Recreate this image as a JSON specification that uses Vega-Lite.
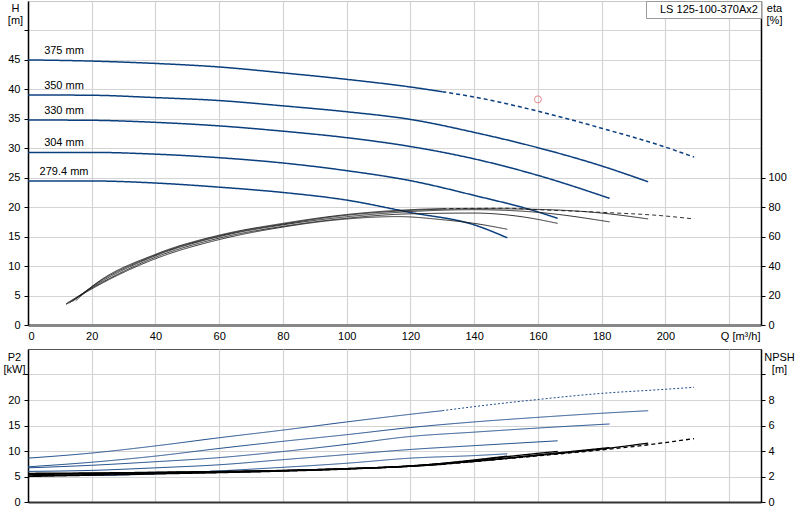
{
  "$schema": "https://vega.github.io/schema/vega-lite/v6.json",
  "background": "white",
  "padding": {"left": 2, "top": 0, "right": 0, "bottom": 0},
  "config": {
    "font": "Liberation Sans",
    "view": {"stroke": "#c8c8c8"},
    "concat": {"spacing": 6},
    "axis": {
      "labelFont": "Liberation Sans", "labelFontSize": 11, "labelColor": "black", "labelOverlap": false,
      "titleFont": "Liberation Sans", "titleFontSize": 11, "titleFontWeight": "normal", "titleColor": "black",
      "gridColor": "#d4d4d4", "gridWidth": 1.2,
      "tickColor": "black", "domainColor": "black", "domainWidth": 1.5
    }
  },
  "datasets": {
    "head": [
      {"diameter": "375 mm", "part": "main", "q": 0, "h": 45},
      {"diameter": "375 mm", "part": "main", "q": 20, "h": 44.8},
      {"diameter": "375 mm", "part": "main", "q": 40, "h": 44.4},
      {"diameter": "375 mm", "part": "main", "q": 60, "h": 43.8},
      {"diameter": "375 mm", "part": "main", "q": 80, "h": 42.8},
      {"diameter": "375 mm", "part": "main", "q": 100, "h": 41.7},
      {"diameter": "375 mm", "part": "main", "q": 120, "h": 40.4},
      {"diameter": "375 mm", "part": "main", "q": 130, "h": 39.6},
      {"diameter": "375 mm", "part": "ext", "q": 130, "h": 39.6},
      {"diameter": "375 mm", "part": "ext", "q": 140, "h": 38.7},
      {"diameter": "375 mm", "part": "ext", "q": 160, "h": 36.3},
      {"diameter": "375 mm", "part": "ext", "q": 180, "h": 33.4},
      {"diameter": "375 mm", "part": "ext", "q": 200, "h": 30.2},
      {"diameter": "375 mm", "part": "ext", "q": 209, "h": 28.5},
      {"diameter": "350 mm", "part": "main", "q": 0, "h": 39.05},
      {"diameter": "350 mm", "part": "main", "q": 20, "h": 39},
      {"diameter": "350 mm", "part": "main", "q": 40, "h": 38.6},
      {"diameter": "350 mm", "part": "main", "q": 60, "h": 38.1},
      {"diameter": "350 mm", "part": "main", "q": 80, "h": 37.2},
      {"diameter": "350 mm", "part": "main", "q": 100, "h": 36.2},
      {"diameter": "350 mm", "part": "main", "q": 120, "h": 34.9},
      {"diameter": "350 mm", "part": "main", "q": 140, "h": 32.7},
      {"diameter": "350 mm", "part": "main", "q": 160, "h": 30.1},
      {"diameter": "350 mm", "part": "main", "q": 180, "h": 27},
      {"diameter": "350 mm", "part": "main", "q": 194.6, "h": 24.3},
      {"diameter": "330 mm", "part": "main", "q": 0, "h": 34.8},
      {"diameter": "330 mm", "part": "main", "q": 20, "h": 34.75},
      {"diameter": "330 mm", "part": "main", "q": 40, "h": 34.4},
      {"diameter": "330 mm", "part": "main", "q": 60, "h": 33.8},
      {"diameter": "330 mm", "part": "main", "q": 80, "h": 32.9},
      {"diameter": "330 mm", "part": "main", "q": 100, "h": 31.8},
      {"diameter": "330 mm", "part": "main", "q": 120, "h": 30.3},
      {"diameter": "330 mm", "part": "main", "q": 140, "h": 28.2},
      {"diameter": "330 mm", "part": "main", "q": 160, "h": 25.4},
      {"diameter": "330 mm", "part": "main", "q": 182.5, "h": 21.5},
      {"diameter": "304 mm", "part": "main", "q": 0, "h": 29.3},
      {"diameter": "304 mm", "part": "main", "q": 20, "h": 29.3},
      {"diameter": "304 mm", "part": "main", "q": 40, "h": 29},
      {"diameter": "304 mm", "part": "main", "q": 60, "h": 28.4},
      {"diameter": "304 mm", "part": "main", "q": 80, "h": 27.5},
      {"diameter": "304 mm", "part": "main", "q": 100, "h": 26.2},
      {"diameter": "304 mm", "part": "main", "q": 120, "h": 24.5},
      {"diameter": "304 mm", "part": "main", "q": 140, "h": 22},
      {"diameter": "304 mm", "part": "main", "q": 160, "h": 19.2},
      {"diameter": "304 mm", "part": "main", "q": 166.2, "h": 18.1},
      {"diameter": "279.4 mm", "part": "main", "q": 0, "h": 24.45},
      {"diameter": "279.4 mm", "part": "main", "q": 20, "h": 24.45},
      {"diameter": "279.4 mm", "part": "main", "q": 40, "h": 24.1},
      {"diameter": "279.4 mm", "part": "main", "q": 60, "h": 23.4},
      {"diameter": "279.4 mm", "part": "main", "q": 80, "h": 22.5},
      {"diameter": "279.4 mm", "part": "main", "q": 100, "h": 21.2},
      {"diameter": "279.4 mm", "part": "main", "q": 120, "h": 19.1},
      {"diameter": "279.4 mm", "part": "main", "q": 140, "h": 17},
      {"diameter": "279.4 mm", "part": "main", "q": 150.4, "h": 14.8}
    ],
    "duty": [
      {"q": 160, "h": 38.3}
    ],
    "efficiency": [
      {"diameter": "279.4 mm", "part": "main", "q": 12, "eta": 14},
      {"diameter": "279.4 mm", "part": "main", "q": 20, "eta": 24.5},
      {"diameter": "279.4 mm", "part": "main", "q": 40, "eta": 45},
      {"diameter": "279.4 mm", "part": "main", "q": 60, "eta": 58},
      {"diameter": "279.4 mm", "part": "main", "q": 80, "eta": 66.5},
      {"diameter": "279.4 mm", "part": "main", "q": 100, "eta": 72},
      {"diameter": "279.4 mm", "part": "main", "q": 116, "eta": 73.6},
      {"diameter": "279.4 mm", "part": "main", "q": 130, "eta": 71.5},
      {"diameter": "279.4 mm", "part": "main", "q": 140, "eta": 69},
      {"diameter": "279.4 mm", "part": "main", "q": 150.4, "eta": 65},
      {"diameter": "304 mm", "part": "main", "q": 12, "eta": 14.5},
      {"diameter": "304 mm", "part": "main", "q": 20, "eta": 25},
      {"diameter": "304 mm", "part": "main", "q": 40, "eta": 46},
      {"diameter": "304 mm", "part": "main", "q": 60, "eta": 59},
      {"diameter": "304 mm", "part": "main", "q": 80, "eta": 67},
      {"diameter": "304 mm", "part": "main", "q": 100, "eta": 72.5},
      {"diameter": "304 mm", "part": "main", "q": 120, "eta": 75.5},
      {"diameter": "304 mm", "part": "main", "q": 140, "eta": 76},
      {"diameter": "304 mm", "part": "main", "q": 155, "eta": 73.5},
      {"diameter": "304 mm", "part": "main", "q": 166.2, "eta": 69},
      {"diameter": "330 mm", "part": "main", "q": 13, "eta": 15},
      {"diameter": "330 mm", "part": "main", "q": 20, "eta": 25.5},
      {"diameter": "330 mm", "part": "main", "q": 40, "eta": 47},
      {"diameter": "330 mm", "part": "main", "q": 60, "eta": 60},
      {"diameter": "330 mm", "part": "main", "q": 80, "eta": 68},
      {"diameter": "330 mm", "part": "main", "q": 100, "eta": 73.5},
      {"diameter": "330 mm", "part": "main", "q": 120, "eta": 77},
      {"diameter": "330 mm", "part": "main", "q": 140, "eta": 78.3},
      {"diameter": "330 mm", "part": "main", "q": 160, "eta": 76.5},
      {"diameter": "330 mm", "part": "main", "q": 182.5, "eta": 70},
      {"diameter": "350 mm", "part": "main", "q": 14, "eta": 16},
      {"diameter": "350 mm", "part": "main", "q": 20, "eta": 26},
      {"diameter": "350 mm", "part": "main", "q": 40, "eta": 47.5},
      {"diameter": "350 mm", "part": "main", "q": 60, "eta": 60.5},
      {"diameter": "350 mm", "part": "main", "q": 80, "eta": 68.5},
      {"diameter": "350 mm", "part": "main", "q": 100, "eta": 74.5},
      {"diameter": "350 mm", "part": "main", "q": 120, "eta": 77.8},
      {"diameter": "350 mm", "part": "main", "q": 140, "eta": 79},
      {"diameter": "350 mm", "part": "main", "q": 160, "eta": 78.5},
      {"diameter": "350 mm", "part": "main", "q": 180, "eta": 76},
      {"diameter": "350 mm", "part": "main", "q": 194.6, "eta": 72},
      {"diameter": "375 mm", "part": "main", "q": 15, "eta": 16.5},
      {"diameter": "375 mm", "part": "main", "q": 20, "eta": 26},
      {"diameter": "375 mm", "part": "main", "q": 40, "eta": 48},
      {"diameter": "375 mm", "part": "main", "q": 60, "eta": 61},
      {"diameter": "375 mm", "part": "main", "q": 80, "eta": 69},
      {"diameter": "375 mm", "part": "main", "q": 100, "eta": 75},
      {"diameter": "375 mm", "part": "main", "q": 120, "eta": 78.3},
      {"diameter": "375 mm", "part": "main", "q": 130, "eta": 79},
      {"diameter": "375 mm", "part": "ext", "q": 130, "eta": 79},
      {"diameter": "375 mm", "part": "ext", "q": 150, "eta": 79.3},
      {"diameter": "375 mm", "part": "ext", "q": 160, "eta": 78.3},
      {"diameter": "375 mm", "part": "ext", "q": 180, "eta": 76.5},
      {"diameter": "375 mm", "part": "ext", "q": 200, "eta": 74},
      {"diameter": "375 mm", "part": "ext", "q": 209, "eta": 72}
    ],
    "power": [
      {"diameter": "375 mm", "part": "main", "q": 0, "p2": 8.6},
      {"diameter": "375 mm", "part": "main", "q": 20, "p2": 9.6},
      {"diameter": "375 mm", "part": "main", "q": 40, "p2": 11},
      {"diameter": "375 mm", "part": "main", "q": 60, "p2": 12.6},
      {"diameter": "375 mm", "part": "main", "q": 80, "p2": 14.1},
      {"diameter": "375 mm", "part": "main", "q": 100, "p2": 15.7},
      {"diameter": "375 mm", "part": "main", "q": 120, "p2": 17.2},
      {"diameter": "375 mm", "part": "main", "q": 130, "p2": 17.9},
      {"diameter": "375 mm", "part": "ext", "q": 130, "p2": 17.9},
      {"diameter": "375 mm", "part": "ext", "q": 140, "p2": 18.7},
      {"diameter": "375 mm", "part": "ext", "q": 160, "p2": 20.1},
      {"diameter": "375 mm", "part": "ext", "q": 180, "p2": 21.3},
      {"diameter": "375 mm", "part": "ext", "q": 200, "p2": 22.1},
      {"diameter": "375 mm", "part": "ext", "q": 209, "p2": 22.5},
      {"diameter": "350 mm", "part": "main", "q": 0, "p2": 6.9},
      {"diameter": "350 mm", "part": "main", "q": 20, "p2": 7.8},
      {"diameter": "350 mm", "part": "main", "q": 40, "p2": 9},
      {"diameter": "350 mm", "part": "main", "q": 60, "p2": 10.5},
      {"diameter": "350 mm", "part": "main", "q": 80, "p2": 11.9},
      {"diameter": "350 mm", "part": "main", "q": 100, "p2": 13.2},
      {"diameter": "350 mm", "part": "main", "q": 120, "p2": 14.6},
      {"diameter": "350 mm", "part": "main", "q": 140, "p2": 15.7},
      {"diameter": "350 mm", "part": "main", "q": 160, "p2": 16.6},
      {"diameter": "350 mm", "part": "main", "q": 180, "p2": 17.4},
      {"diameter": "350 mm", "part": "main", "q": 194.6, "p2": 17.9},
      {"diameter": "330 mm", "part": "main", "q": 0, "p2": 6.7},
      {"diameter": "330 mm", "part": "main", "q": 20, "p2": 7.2},
      {"diameter": "330 mm", "part": "main", "q": 40, "p2": 7.9},
      {"diameter": "330 mm", "part": "main", "q": 60, "p2": 8.7},
      {"diameter": "330 mm", "part": "main", "q": 80, "p2": 9.9},
      {"diameter": "330 mm", "part": "main", "q": 100, "p2": 11.3},
      {"diameter": "330 mm", "part": "main", "q": 120, "p2": 12.85},
      {"diameter": "330 mm", "part": "main", "q": 140, "p2": 13.7},
      {"diameter": "330 mm", "part": "main", "q": 160, "p2": 14.5},
      {"diameter": "330 mm", "part": "main", "q": 182.5, "p2": 15.3},
      {"diameter": "304 mm", "part": "main", "q": 0, "p2": 6},
      {"diameter": "304 mm", "part": "main", "q": 20, "p2": 6.2},
      {"diameter": "304 mm", "part": "main", "q": 40, "p2": 6.7},
      {"diameter": "304 mm", "part": "main", "q": 60, "p2": 7.3},
      {"diameter": "304 mm", "part": "main", "q": 80, "p2": 8.3},
      {"diameter": "304 mm", "part": "main", "q": 100, "p2": 9.3},
      {"diameter": "304 mm", "part": "main", "q": 120, "p2": 10.3},
      {"diameter": "304 mm", "part": "main", "q": 140, "p2": 11.05},
      {"diameter": "304 mm", "part": "main", "q": 166.2, "p2": 12},
      {"diameter": "279.4 mm", "part": "main", "q": 0, "p2": 5.5},
      {"diameter": "279.4 mm", "part": "main", "q": 20, "p2": 5.2},
      {"diameter": "279.4 mm", "part": "main", "q": 40, "p2": 5.5},
      {"diameter": "279.4 mm", "part": "main", "q": 60, "p2": 6.1},
      {"diameter": "279.4 mm", "part": "main", "q": 80, "p2": 6.8},
      {"diameter": "279.4 mm", "part": "main", "q": 100, "p2": 7.6},
      {"diameter": "279.4 mm", "part": "main", "q": 120, "p2": 8.6},
      {"diameter": "279.4 mm", "part": "main", "q": 140, "p2": 9.1},
      {"diameter": "279.4 mm", "part": "main", "q": 150.4, "p2": 9.45}
    ],
    "npsh": [
      {"diameter": "279.4 mm", "part": "main", "q": 0, "npsh": 2.0},
      {"diameter": "279.4 mm", "part": "main", "q": 20, "npsh": 2.1},
      {"diameter": "279.4 mm", "part": "main", "q": 40, "npsh": 2.2},
      {"diameter": "279.4 mm", "part": "main", "q": 60, "npsh": 2.3},
      {"diameter": "279.4 mm", "part": "main", "q": 80, "npsh": 2.42},
      {"diameter": "279.4 mm", "part": "main", "q": 100, "npsh": 2.58},
      {"diameter": "279.4 mm", "part": "main", "q": 120, "npsh": 2.82},
      {"diameter": "279.4 mm", "part": "main", "q": 140, "npsh": 3.3},
      {"diameter": "279.4 mm", "part": "main", "q": 150.4, "npsh": 3.6},
      {"diameter": "304 mm", "part": "main", "q": 0, "npsh": 2.05},
      {"diameter": "304 mm", "part": "main", "q": 20, "npsh": 2.15},
      {"diameter": "304 mm", "part": "main", "q": 40, "npsh": 2.25},
      {"diameter": "304 mm", "part": "main", "q": 60, "npsh": 2.32},
      {"diameter": "304 mm", "part": "main", "q": 80, "npsh": 2.44},
      {"diameter": "304 mm", "part": "main", "q": 100, "npsh": 2.6},
      {"diameter": "304 mm", "part": "main", "q": 120, "npsh": 2.84},
      {"diameter": "304 mm", "part": "main", "q": 140, "npsh": 3.25},
      {"diameter": "304 mm", "part": "main", "q": 150, "npsh": 3.55},
      {"diameter": "304 mm", "part": "main", "q": 166.2, "npsh": 3.97},
      {"diameter": "330 mm", "part": "main", "q": 0, "npsh": 2.15},
      {"diameter": "330 mm", "part": "main", "q": 20, "npsh": 2.22},
      {"diameter": "330 mm", "part": "main", "q": 40, "npsh": 2.3},
      {"diameter": "330 mm", "part": "main", "q": 60, "npsh": 2.36},
      {"diameter": "330 mm", "part": "main", "q": 80, "npsh": 2.46},
      {"diameter": "330 mm", "part": "main", "q": 100, "npsh": 2.6},
      {"diameter": "330 mm", "part": "main", "q": 120, "npsh": 2.8},
      {"diameter": "330 mm", "part": "main", "q": 140, "npsh": 3.2},
      {"diameter": "330 mm", "part": "main", "q": 160, "npsh": 3.7},
      {"diameter": "330 mm", "part": "main", "q": 182.5, "npsh": 4.27},
      {"diameter": "350 mm", "part": "main", "q": 0, "npsh": 2.2},
      {"diameter": "350 mm", "part": "main", "q": 20, "npsh": 2.25},
      {"diameter": "350 mm", "part": "main", "q": 40, "npsh": 2.32},
      {"diameter": "350 mm", "part": "main", "q": 60, "npsh": 2.38},
      {"diameter": "350 mm", "part": "main", "q": 80, "npsh": 2.47},
      {"diameter": "350 mm", "part": "main", "q": 100, "npsh": 2.62},
      {"diameter": "350 mm", "part": "main", "q": 120, "npsh": 2.82},
      {"diameter": "350 mm", "part": "main", "q": 140, "npsh": 3.18},
      {"diameter": "350 mm", "part": "main", "q": 160, "npsh": 3.65},
      {"diameter": "350 mm", "part": "main", "q": 180, "npsh": 4.15},
      {"diameter": "350 mm", "part": "main", "q": 194.6, "npsh": 4.62},
      {"diameter": "375 mm", "part": "main", "q": 0, "npsh": 2.25},
      {"diameter": "375 mm", "part": "main", "q": 20, "npsh": 2.28},
      {"diameter": "375 mm", "part": "main", "q": 40, "npsh": 2.33},
      {"diameter": "375 mm", "part": "main", "q": 60, "npsh": 2.4},
      {"diameter": "375 mm", "part": "main", "q": 80, "npsh": 2.48},
      {"diameter": "375 mm", "part": "main", "q": 100, "npsh": 2.62},
      {"diameter": "375 mm", "part": "main", "q": 120, "npsh": 2.8},
      {"diameter": "375 mm", "part": "main", "q": 130, "npsh": 2.95},
      {"diameter": "375 mm", "part": "ext", "q": 130, "npsh": 2.95},
      {"diameter": "375 mm", "part": "ext", "q": 150, "npsh": 3.4},
      {"diameter": "375 mm", "part": "ext", "q": 170, "npsh": 3.85},
      {"diameter": "375 mm", "part": "ext", "q": 190, "npsh": 4.35},
      {"diameter": "375 mm", "part": "ext", "q": 209, "npsh": 4.97}
    ]
  },
  "resolve": {"legend": {"color": "independent"}},
  "vconcat": [
    {
      "width": 733,
      "height": 324,
      "layer": [
        {
          "layer": [
            {
              "data": {"name": "head"},
              "mark": {"type": "line", "strokeWidth": 1.5, "interpolate": "monotone"},
              "encoding": {
                "x": {
                  "field": "q", "type": "quantitative",
                  "scale": {"domain": [0, 230], "nice": false},
                  "axis": {
                    "title": null,
                    "values": [0, 20, 40, 60, 80, 100, 120, 140, 160, 180, 200, 220],
                    "labelExpr": "datum.value == 220 ? 'Q [m³/h]' : datum.label",
                    "labelOffset": {"condition": {"test": "datum.value == 220", "value": 11}, "value": 0},
                    "labelOverlap": false,
                    "domainColor": "#888888", "domainWidth": 3,
                    "ticks": false, "tickSize": 0, "labelPadding": 5
                  }
                },
                "y": {
                  "field": "h", "type": "quantitative",
                  "scale": {"domain": [0, 55], "nice": false},
                  "axis": {
                    "orient": "left",
                    "values": [0, 5, 10, 15, 20, 25, 30, 35, 40, 45, 50],
                    "labelExpr": "datum.value == 50 ? '' : datum.label",
                    "labelOverlap": false,
                    "tickSize": 4, "labelPadding": 4,
                    "title": ["H", "[m]"], "titleAngle": 0, "titleAlign": "center",
                    "titleBaseline": "top", "titleX": -13, "titleY": 1, "titleLineHeight": 12
                  }
                },
                "detail": {"field": "diameter"},
                "color": {
                  "datum": "LS 125-100-370Ax2",
                  "scale": {"range": ["#0b3f7e"]},
                  "legend": {
                    "orient": "top-right", "offset": 0, "title": null, "padding": 3,
                    "strokeColor": "#9a9a9a", "fillColor": "white",
                    "symbolSize": 0, "symbolOpacity": 0, "labelOffset": 0,
                    "labelFont": "Liberation Sans", "labelFontSize": 11, "labelColor": "black"
                  }
                },
                "strokeDash": {
                  "field": "part", "type": "nominal",
                  "scale": {"domain": ["main", "ext"], "range": [[1, 0], [4, 3]]},
                  "legend": null
                }
              }
            },
            {
              "data": {"name": "head"},
              "transform": [{"filter": "datum.q == 0"}],
              "mark": {"type": "text", "align": "center", "baseline": "middle", "dx": 36, "dy": -9, "fontSize": 11, "font": "Liberation Sans", "color": "black"},
              "encoding": {
                "x": {"field": "q", "type": "quantitative"},
                "y": {
                  "field": "h", "type": "quantitative",
                  "axis": {
                    "orient": "left",
                    "values": [0, 5, 10, 15, 20, 25, 30, 35, 40, 45, 50],
                    "labelExpr": "datum.value == 50 ? '' : datum.label",
                    "labelOverlap": false,
                    "tickSize": 4, "labelPadding": 4,
                    "title": ["H", "[m]"], "titleAngle": 0, "titleAlign": "center",
                    "titleBaseline": "top", "titleX": -13, "titleY": 1, "titleLineHeight": 12
                  }
                },
                "text": {"field": "diameter"}
              }
            },
            {
              "data": {"name": "duty"},
              "mark": {"type": "point", "shape": "circle", "filled": false, "size": 50, "stroke": "#e5595c", "strokeWidth": 1},
              "encoding": {
                "x": {"field": "q", "type": "quantitative"},
                "y": {
                  "field": "h", "type": "quantitative",
                  "axis": {
                    "orient": "left",
                    "values": [0, 5, 10, 15, 20, 25, 30, 35, 40, 45, 50],
                    "labelExpr": "datum.value == 50 ? '' : datum.label",
                    "labelOverlap": false,
                    "tickSize": 4, "labelPadding": 4,
                    "title": ["H", "[m]"], "titleAngle": 0, "titleAlign": "center",
                    "titleBaseline": "top", "titleX": -13, "titleY": 1, "titleLineHeight": 12
                  }
                }
              }
            }
          ]
        },
        {
          "data": {"name": "efficiency"},
          "mark": {"type": "line", "strokeWidth": 0.9, "color": "#1a1a1a", "interpolate": "monotone"},
          "encoding": {
            "x": {"field": "q", "type": "quantitative"},
            "y": {
              "field": "eta", "type": "quantitative",
              "scale": {"domain": [0, 220], "nice": false},
              "axis": {
                "orient": "right", "grid": false,
                "values": [0, 20, 40, 60, 80, 100],
                "labelOverlap": false,
                "tickSize": 4, "labelPadding": 3,
                "title": ["eta", "[%]"], "titleAngle": 0, "titleAlign": "center",
                "titleBaseline": "top", "titleX": 13, "titleY": 1, "titleLineHeight": 12
              }
            },
            "detail": {"field": "diameter"},
            "strokeDash": {
              "field": "part", "type": "nominal",
              "scale": {"domain": ["main", "ext"], "range": [[1, 0], [2, 2]]},
              "legend": null
            }
          }
        }
      ],
      "resolve": {"scale": {"y": "independent"}}
    },
    {
      "width": 733,
      "height": 153,
      "view": {"stroke": "#555555"},
      "layer": [
        {
          "data": {"name": "power"},
          "mark": {"type": "line", "strokeWidth": 1, "color": "#1d4c8a", "interpolate": "monotone"},
          "encoding": {
            "x": {
              "field": "q", "type": "quantitative",
              "scale": {"domain": [0, 230], "nice": false},
              "axis": {
                "title": null, "labels": false,
                "values": [0, 20, 40, 60, 80, 100, 120, 140, 160, 180, 200, 220],
                "domainColor": "#333333", "domainWidth": 2, "ticks": false, "tickSize": 0
              }
            },
            "y": {
              "field": "p2", "type": "quantitative",
              "scale": {"domain": [0, 30], "nice": false},
              "axis": {
                "orient": "left",
                "values": [0, 5, 10, 15, 20, 25],
                "labelExpr": "datum.value == 25 ? '' : datum.label",
                "labelOverlap": false,
                "tickSize": 4, "labelPadding": 4,
                "title": ["P2", "[kW]"], "titleAngle": 0, "titleAlign": "center",
                "titleBaseline": "top", "titleX": -14, "titleY": 2, "titleLineHeight": 12
              }
            },
            "detail": {"field": "diameter"},
            "strokeDash": {
              "field": "part", "type": "nominal",
              "scale": {"domain": ["main", "ext"], "range": [[1, 0], [2, 2]]},
              "legend": null
            }
          }
        },
        {
          "data": {"name": "npsh"},
          "mark": {"type": "line", "strokeWidth": 1.3, "color": "black", "interpolate": "monotone"},
          "encoding": {
            "x": {"field": "q", "type": "quantitative"},
            "y": {
              "field": "npsh", "type": "quantitative",
              "scale": {"domain": [0, 12], "nice": false},
              "axis": {
                "orient": "right", "grid": false,
                "values": [0, 2, 4, 6, 8, 10],
                "labelExpr": "datum.value == 10 ? '' : datum.label",
                "labelOverlap": false,
                "tickSize": 4, "labelPadding": 3,
                "title": ["NPSH", "[m]"], "titleAngle": 0, "titleAlign": "center",
                "titleBaseline": "top", "titleX": 18, "titleY": 2, "titleLineHeight": 12
              }
            },
            "detail": {"field": "diameter"},
            "strokeDash": {
              "field": "part", "type": "nominal",
              "scale": {"domain": ["main", "ext"], "range": [[1, 0], [4, 3]]},
              "legend": null
            }
          }
        }
      ],
      "resolve": {"scale": {"y": "independent", "strokeDash": "independent"}}
    }
  ]
}
